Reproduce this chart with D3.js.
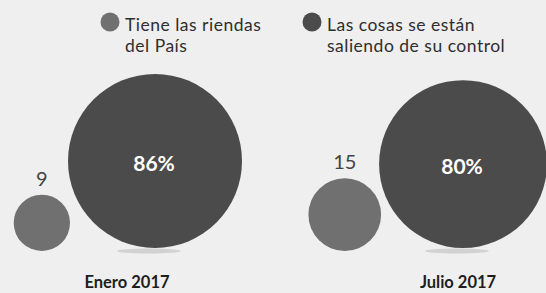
<!DOCTYPE html>
<html>
<head>
<meta charset="utf-8">
<script src="https://cdn.jsdelivr.net/npm/d3@7"></script>
<style>
  html, body { margin: 0; padding: 0; background: #efefef; }
  svg { display: block; font-family: Lato, "Open Sans", sans-serif; }
</style>
</head>
<body>
<div id="chart"></div>
<script>
var width = 546, height = 293;

// data
var periods = ["Enero 2017", "Julio 2017"];
var tieneRiendas = [9, 15];      // small circle, plain number
var fueraControl = [86, 80];     // big circle, percent
var seriesNames = ["Tiene las riendas\ndel País", "Las cosas se están\nsaliendo de su control"];

var colors = ["#707070", "#4b4b4b"];

var svg = d3.select("#chart")
    .append("svg")
    .attr("width", width)
    .attr("height", height);

// area-proportional radius
var r = d3.scaleSqrt().domain([0, 86]).range([0, 87]);

// big circle centre for each period
var x = d3.scalePoint().domain(periods).range([155, 463]);
var labelShift = [-28, -5];
var baseY = 250;

// legend
var legend = svg.append("g")
    .selectAll("g")
    .data(seriesNames)
    .enter()
    .append("g")
    .attr("transform", function(d, i) { return "translate(" + [110, 312][i] + ",0)"; });

legend.append("circle")
    .attr("cy", 22)
    .attr("r", 9.5)
    .attr("fill", function(d, i) { return colors[i]; });

legend.selectAll("text")
    .data(function(d) { return d.split("\n"); })
    .enter()
    .append("text")
    .attr("x", 15)
    .attr("y", function(d, i) { return 31 + i * 21; })
    .attr("fill", "#2e2e2e")
    .style("font-size", "17.5px")
    .style("letter-spacing", "0.5px")
    .text(function(d) { return d; });

var groups = svg.append("g")
    .selectAll("g")
    .data(periods)
    .enter()
    .append("g");

// faint shadow under the big circle
groups.append("ellipse")
    .attr("cx", function(d) { return x(d) - 6; })
    .attr("cy", baseY + 1)
    .attr("rx", 32)
    .attr("ry", 2.5)
    .attr("fill", "#d2d2d2");

groups.append("circle")
    .attr("cx", function(d) { return x(d); })
    .attr("cy", function(d, i) { return baseY - 2 - r(fueraControl[i]); })
    .attr("r", function(d, i) { return r(fueraControl[i]); })
    .attr("fill", colors[1]);

function smallX(d, i) {
  return x(d) - r(fueraControl[i]) - r(tieneRiendas[i]) + 2;
}

groups.append("circle")
    .attr("cx", smallX)
    .attr("cy", function(d, i) { return baseY + 1 - r(tieneRiendas[i]); })
    .attr("r", function(d, i) { return r(tieneRiendas[i]); })
    .attr("fill", colors[0]);

groups.append("text")
    .attr("x", smallX)
    .attr("y", function(d, i) { return baseY + 1 - 2 * r(tieneRiendas[i]) - 9; })
    .attr("text-anchor", "middle")
    .attr("fill", "#444")
    .style("font-size", "20px")
    .style("font-weight", 400)
    .text(function(d, i) { return tieneRiendas[i]; });

groups.append("text")
    .attr("x", function(d) { return x(d) - 1; })
    .attr("y", function(d, i) { return baseY - 2 - r(fueraControl[i]) + 10; })
    .attr("text-anchor", "middle")
    .attr("fill", "#fff")
    .style("font-size", "21px")
    .style("font-weight", 700)
    .text(function(d, i) { return fueraControl[i] + "%"; });

groups.append("text")
    .attr("x", function(d, i) { return x(d) + labelShift[i]; })
    .attr("y", 288)
    .attr("text-anchor", "middle")
    .attr("fill", "#1e1e1e")
    .style("font-size", "16.5px")
    .style("font-weight", 700)
    .text(function(d) { return d; });
</script>
</body>
</html>
